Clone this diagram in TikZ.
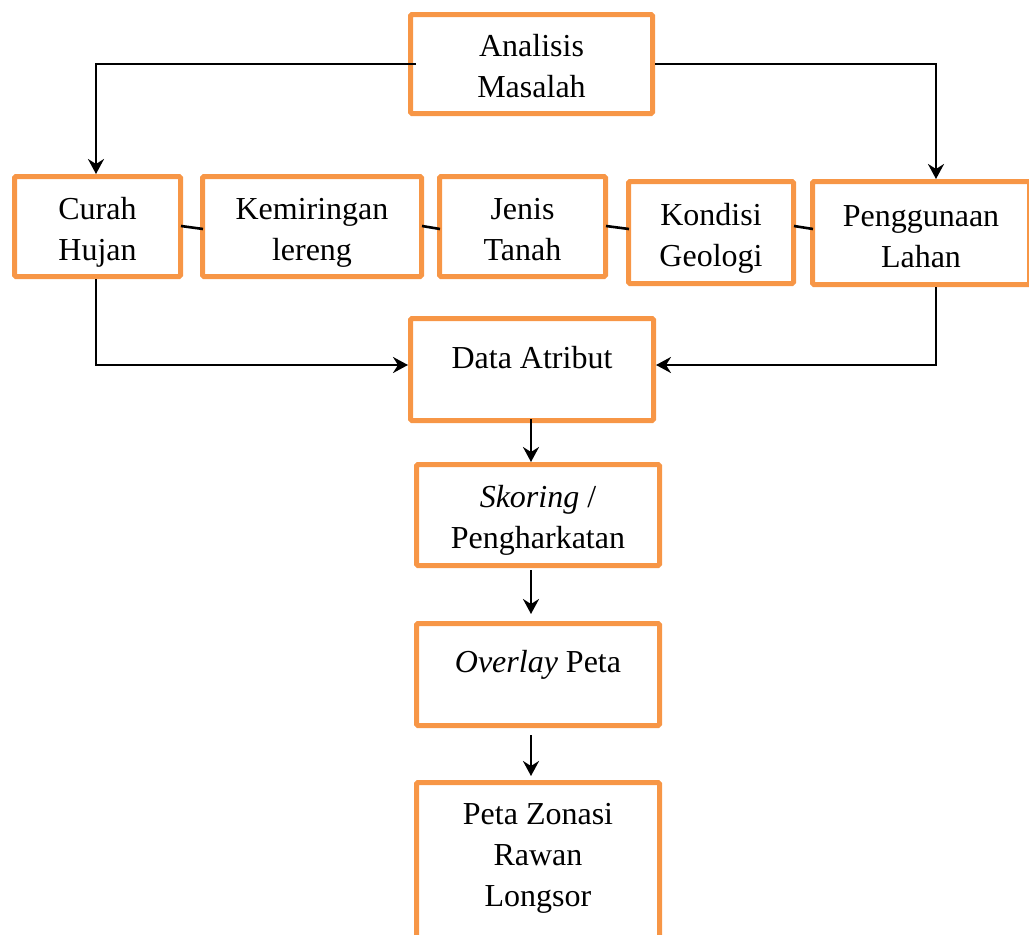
\documentclass[tikz,border=0pt]{standalone}
\usepackage{fontspec}
\setmainfont{Liberation Serif}
\usetikzlibrary{arrows.meta,calc}
\definecolor{boxorange}{HTML}{F79646}
\newcommand{\boxtext}[2]{\raisebox{#1}[\height][\depth]{\begin{tabular}{@{}c@{}}#2\end{tabular}}}
\begin{document}
\begin{tikzpicture}[x=1pt,y=-1pt,
  fbox/.style={draw=boxorange, line width=5pt, rounded corners=1.5pt, inner sep=0pt,
    align=center, font=\fontsize{32}{41}\selectfont},
  conn/.style={line width=2.6pt, black},
  arr/.style={conn, -{Stealth[length=15pt,width=16pt,inset=5pt]}}]
\useasboundingbox (0,0) rectangle (1029,935);
\clip (0,0) rectangle (1029,935);
% boxes
\node[fbox, minimum width=242pt, minimum height=99pt] (am) at (531.5,64) {\boxtext{-5pt}{Analisis\\Masalah}};
\node[fbox, minimum width=166pt, minimum height=100pt] (ch) at (97.5,226.5) {\boxtext{-5pt}{Curah\\Hujan}};
\node[fbox, minimum width=219pt, minimum height=100pt] (kl) at (312,226.5) {\boxtext{-5pt}{Kemiringan\\lereng}};
\node[fbox, minimum width=166pt, minimum height=100pt] (jt) at (522.5,226.5) {\boxtext{-5pt}{Jenis\\Tanah}};
\node[fbox, minimum width=165pt, minimum height=102pt] (kg) at (711,232.5) {\boxtext{-5pt}{Kondisi\\Geologi}};
\node[fbox, minimum width=217pt, minimum height=103pt] (pl) at (921,233) {\boxtext{-6pt}{Penggunaan\\Lahan}};
\node[fbox, minimum width=243pt, minimum height=102pt] (da) at (532,369.5) {\raisebox{12pt}[\height][\depth]{Data Atribut}};
\node[fbox, minimum width=243pt, minimum height=101pt] (sk) at (538,515) {\boxtext{-5pt}{\textit{Skoring} /\\Pengharkatan}};
\node[fbox, minimum width=243pt, minimum height=102pt] (ov) at (538,674.5) {\raisebox{10pt}[\height][\depth]{\textit{Overlay} Peta}};
\node[fbox, minimum width=243pt, minimum height=177pt] (pz) at (538,871) {\boxtext{14pt}{Peta Zonasi\\Rawan\\Longsor}};
% connectors
\draw[arr] ($(am.west)+(8,0)$) -| ([xshift=-1.5pt]ch.north);
\draw[arr] (am.east) -| ([xshift=15pt]pl.north);
\draw[arr] ([xshift=-1.5pt]ch.south) |- ($(da.west)+(0,-4.5)$);
\draw[arr] ([xshift=15pt]pl.south) |- ($(da.east)+(0,-4.5)$);
\draw[conn] ($(ch.east)+(-2,-0.5)$) -- ($(kl.west)+(3,2.5)$);
\draw[conn] ($(kl.east)+(-2,-0.5)$) -- ($(jt.west)+(3,2.5)$);
\draw[conn] ($(jt.east)+(-2,-0.5)$) -- ($(kg.west)+(3,-3.5)$);
\draw[conn] ($(kg.east)+(-2,-6.5)$) -- ($(pl.west)+(3,-4)$);
\draw[arr] ($(da.south)+(-1,-4)$) -- ($(da.south |- sk.north)+(-1,0)$);
\draw[arr] ($(sk.south)+(-7,2)$) -- ($(ov.north)+(-7,-7)$);
\draw[arr] ($(ov.south)+(-7,7)$) -- ($(pz.north)+(-7,-4)$);
\end{tikzpicture}
\end{document}
